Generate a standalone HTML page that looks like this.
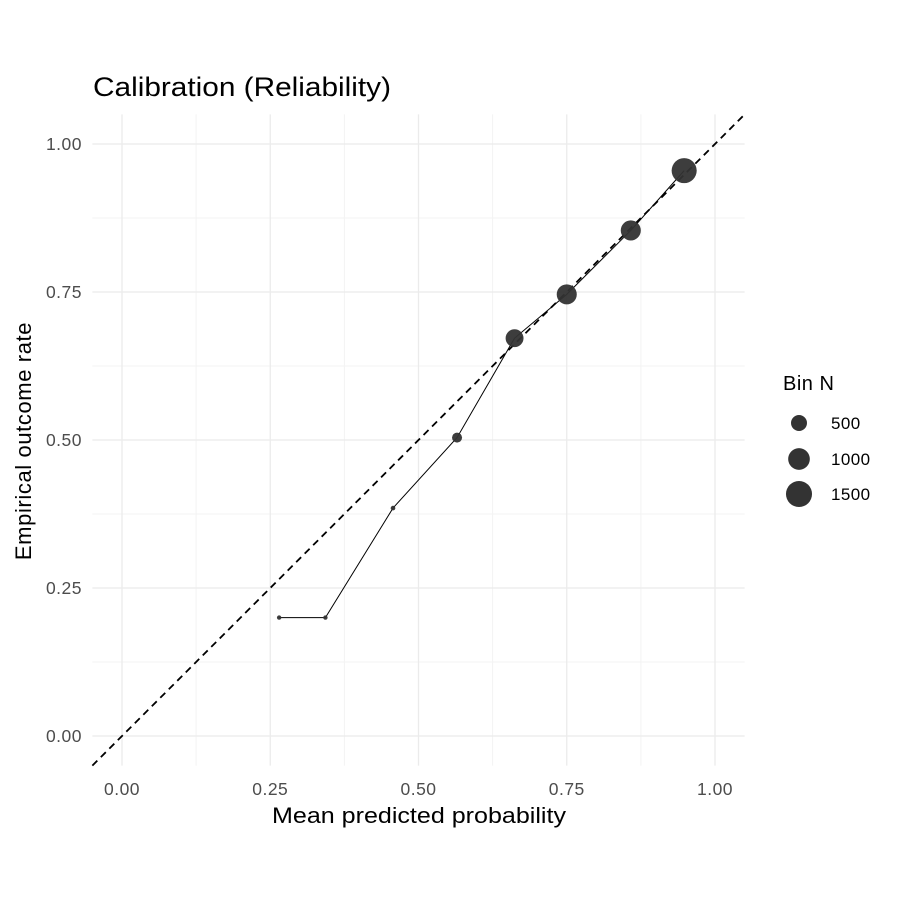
<!DOCTYPE html>
<html><head><meta charset="utf-8"><style>
body{margin:0;background:#fff}
svg text{font-family:"Liberation Sans",Arial,sans-serif}
</style></head><body>
<svg width="900" height="900" viewBox="0 0 900 900">
<g id="grid"></g>
<g id="marks"></g>
<g id="axes"></g>
<text x="93" y="96" font-size="27" textLength="298" lengthAdjust="spacingAndGlyphs" fill="#000">Calibration (Reliability)</text>
<text x="272" y="823" font-size="22" textLength="294" lengthAdjust="spacingAndGlyphs" fill="#000">Mean predicted probability</text>
<text transform="translate(31,441) rotate(-90)" font-size="22" text-anchor="middle" letter-spacing="0.6" fill="#000">Empirical outcome rate</text>
<g id="legend">
<text x="783" y="390" font-size="20" letter-spacing="0.5" fill="#000">Bin N</text>
</g>
</svg>
<script>
const predicted=[0.265,0.343,0.457,0.565,0.662,0.750,0.858,0.948];
const observed=[0.200,0.200,0.385,0.504,0.672,0.746,0.854,0.955];
const binN=[12,12,15,160,650,840,840,1380];
const ticks=[0,0.25,0.5,0.75,1];
const tickLabels=["0.00","0.25","0.50","0.75","1.00"];
const legendN=[500,1000,1500];
const NS="http://www.w3.org/2000/svg";
const X=v=>122+v*593, Y=v=>736-v*592;
const R=n=>1.13+0.307*Math.sqrt(n);
function mk(p,t,a){const e=document.createElementNS(NS,t);for(const k in a)e.setAttribute(k,a[k]);p.appendChild(e);return e;}
const g=document.getElementById('grid'),m=document.getElementById('marks'),ax=document.getElementById('axes'),lg=document.getElementById('legend');
const x0=X(-0.05),x1=X(1.05),y0=Y(-0.05),y1=Y(1.05);
for(let i=0;i<ticks.length-1;i++){const v=(ticks[i]+ticks[i+1])/2;
let l=mk(g,'line',{x1:X(v),x2:X(v),y1:y1,y2:y0,stroke:'#f3f3f3','stroke-width':1});

l=mk(g,'line',{x1:x0,x2:x1,y1:Y(v),y2:Y(v),stroke:'#f3f3f3','stroke-width':1});
}
ticks.forEach((v,i)=>{
let l=mk(g,'line',{x1:X(v),x2:X(v),y1:y1,y2:y0,stroke:'#ebebeb','stroke-width':1.3});

l=mk(g,'line',{x1:x0,x2:x1,y1:Y(v),y2:Y(v),stroke:'#ebebeb','stroke-width':1.3});

let t=mk(ax,'text',{x:X(v),y:795,'font-size':17.5,'letter-spacing':0.5,fill:'#4d4d4d','text-anchor':'middle'});t.textContent=tickLabels[i];

t=mk(ax,'text',{x:82,y:Y(v)+6,'font-size':17.5,'letter-spacing':0.5,fill:'#4d4d4d','text-anchor':'end'});t.textContent=tickLabels[i];
});
let d=mk(m,'line',{x1:x0,y1:y0,x2:x1,y2:y1,stroke:'#000','stroke-width':1.8,'stroke-dasharray':'7,5'});

let p=mk(m,'polyline',{points:predicted.map((v,i)=>X(v)+','+Y(observed[i])).join(' '),fill:'none',stroke:'#000','stroke-width':1});

predicted.forEach((v,i)=>{const c=mk(m,'circle',{cx:X(v),cy:Y(observed[i]),r:R(binN[i]),fill:'#333','fill-opacity':0.95});
});
const ly=[423,459,494];
legendN.forEach((n,i)=>{const c=mk(lg,'circle',{cx:799,cy:ly[i],r:R(n),fill:'#333'});

const t=mk(lg,'text',{x:831,y:ly[i]+6,'font-size':17,'letter-spacing':0.4,fill:'#000'});t.textContent=n;
});
</script>
</body></html>
